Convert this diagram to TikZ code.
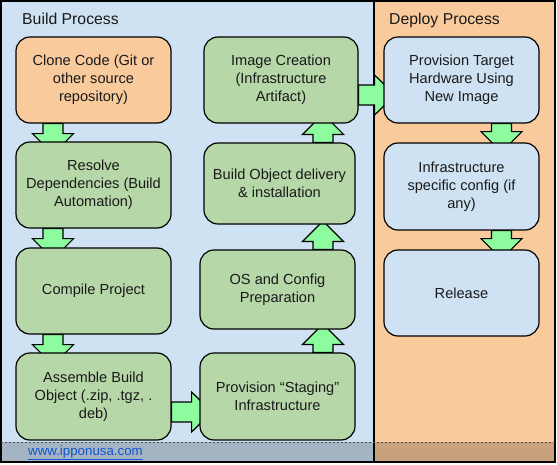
\documentclass[tikz,border=0pt]{standalone}
\usepackage{fontspec}
\setmainfont{Liberation Sans}
\usetikzlibrary{calc}
\definecolor{panelblue}{HTML}{CFE2F3}
\definecolor{panelorange}{HTML}{F9CB9C}
\definecolor{boxgreen}{HTML}{B6D7A8}
\definecolor{arrowgreen}{RGB}{140,252,158}
\definecolor{linkblue}{HTML}{1155CC}
\definecolor{txt}{HTML}{1A1A1A}
\pgfdeclarelayer{bg}
\pgfdeclarelayer{arrowlayer}
\pgfsetlayers{bg,arrowlayer,main}
\tikzset{
  panel/.style={draw=black, line width=1.1pt},
  box/.style={draw=black, line width=1.2pt, rounded corners=14pt, inner sep=0pt,
    align=center, text=txt, font=\fontsize{14.6}{18}\selectfont},
  flowarrow/.style={draw=black, line width=1.2pt, fill=arrowgreen, line join=miter},
  header/.style={anchor=base west, inner sep=0pt, text=txt, font=\fontsize{15.8}{18}\selectfont},
}
\newcommand\dnarrow[3]{% from node #1, centre x #2, shaft length #3
  \draw[flowarrow] (#2,0 |- #1.south) ++(-10,0) -- ++(20,0) -- ++(0,#3) -- ++(10.5,0)
    -- ++(-20.5,20.5) -- ++(-20.5,-20.5) -- ++(10.5,0) -- cycle;}
\newcommand\uparrowshape[3]{% from node #1 (lower), centre x #2, shaft length #3
  \draw[flowarrow] (#2,0 |- #1.north) ++(-10,0) -- ++(20,0) -- ++(0,-#3) -- ++(10.5,0)
    -- ++(-20.5,-20.5) -- ++(-20.5,20.5) -- ++(10.5,0) -- cycle;}
\newcommand\rtarrow[3]{% from node #1, centre y #2, shaft length #3
  \draw[flowarrow] (#1.east |- 0,#2) ++(0,-10) -- ++(0,20) -- ++(#3,0) -- ++(0,10)
    -- ++(20.5,-20) -- ++(-20.5,-20) -- ++(0,10) -- cycle;}
\begin{document}
\begin{tikzpicture}[x=1pt,y=-1pt]
\useasboundingbox (0,0) rectangle (557,464);
% boxes
\node[box, fill=panelorange, minimum width=155pt, minimum height=86pt] (clone) at (93.5,80)
  {Clone Code (Git or\\other source\\repository)};
\node[box, fill=boxgreen, minimum width=155pt, minimum height=86pt] (resolve) at (93.5,185)
  {Resolve\\Dependencies (Build\\Automation)};
\node[box, fill=boxgreen, minimum width=155pt, minimum height=86pt] (compile) at (93.5,291)
  {Compile Project};
\node[box, fill=boxgreen, minimum width=155pt, minimum height=87pt] (assemble) at (93.5,396.5)
  {Assemble Build\\Object (.zip, .tgz, .\\deb)};
\node[box, fill=boxgreen, minimum width=154pt, minimum height=86pt] (image) at (281,80)
  {Image Creation\\(Infrastructure\\Artifact)};
\node[box, fill=boxgreen, minimum width=151pt, minimum height=81pt] (build) at (279.5,183.5)
  {Build Object delivery\\\& installation};
\node[box, fill=boxgreen, minimum width=155pt, minimum height=79pt] (os) at (277.5,289.5)
  {OS and Config\\Preparation};
\node[box, fill=boxgreen, minimum width=155pt, minimum height=87pt] (staging) at (277.5,396.5)
  {Provision “Staging”\\Infrastructure};
\node[box, fill=panelblue, minimum width=155pt, minimum height=86pt] (target) at (461.5,80)
  {Provision Target\\Hardware Using\\New Image};
\node[box, fill=panelblue, minimum width=155pt, minimum height=87pt] (infra) at (461.5,186.5)
  {Infrastructure\\specific config (if\\any)};
\node[box, fill=panelblue, minimum width=155pt, minimum height=86pt] (release) at (461.5,293)
  {Release};
% panels
\begin{pgfonlayer}{bg}
  \fill[panelblue] (1,1) rectangle (374,462);
  \fill[panelorange] (374,1) rectangle (555,462);
  \draw[panel] (1,1) rectangle (555,462);
  \draw[panel] (374,1) -- (374,462);
\end{pgfonlayer}
% arrows
\begin{pgfonlayer}{arrowlayer}
  \dnarrow{clone}{53}{10}
  \dnarrow{resolve}{53}{10}
  \dnarrow{compile}{53}{10}
  \rtarrow{assemble}{412}{20}
  \uparrowshape{staging}{323}{8}
  \uparrowshape{os}{323}{8}
  \uparrowshape{build}{323}{8}
  \rtarrow{image}{95}{16}
  \dnarrow{target}{501.5}{8}
  \dnarrow{infra}{501.5}{8}
\end{pgfonlayer}
% headers
\node[header] (buildhdr) at (22,24) {Build Process};
\node[header] (deployhdr) at (389,24) {Deploy Process};
% bottom strip
\fill[black, opacity=0.2] (1,442) rectangle (555,462);
\draw[black!70, line width=0.6pt, dash pattern=on 2pt off 2pt] (1,442) -- (555,442);
\draw[panel] (1,462) -- (555,462);
\node[anchor=base west, inner sep=0pt, text=linkblue, font=\fontsize{13.3}{15}\selectfont] (link) at (28,455)
  {\underline{www.ipponusa.com}};
\end{tikzpicture}
\end{document}
